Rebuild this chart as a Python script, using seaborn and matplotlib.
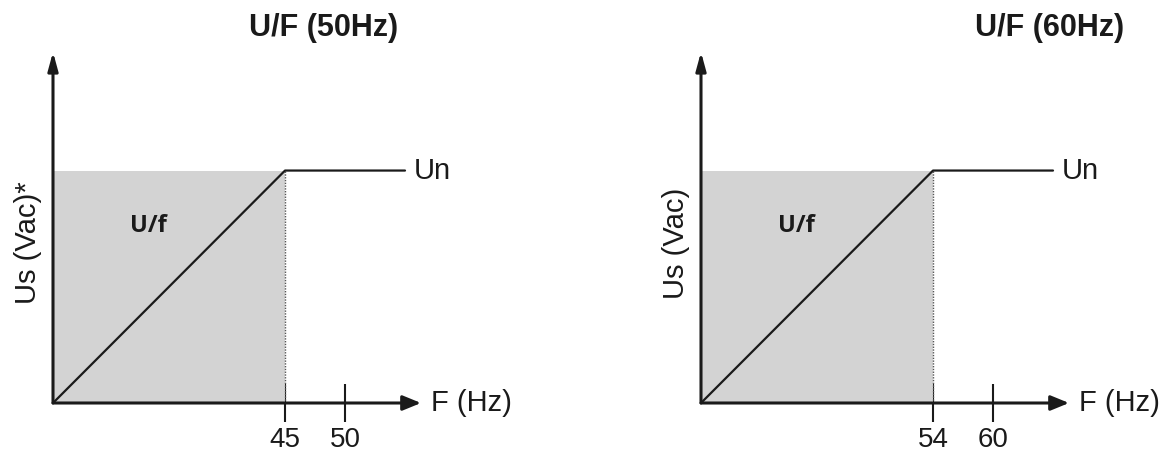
"""
U/F control curves for 50 Hz and 60 Hz motors.
"""

import numpy as np
import pandas as pd
import matplotlib.pyplot as plt
import seaborn as sns

# ── Data ───────────────────────────────────────────────────────────────
titles     = ['U/F (50Hz)', 'U/F (60Hz)']
ylabels    = ['Us (Vac)*', 'Us (Vac)']
knee_freq  = [45, 54]           # end of the U/f ramp
nom_freq   = [50, 60]           # nominal frequency
end_freq   = [55, 66]           # end of the flat Un segment
curve_volt = [0, 100, 100]      # % of Un at (0, knee, end)

# ── Style ──────────────────────────────────────────────────────────────
sns.set_theme(style='white')
plt.rcParams['font.family'] = ['Liberation Sans', 'DejaVu Sans']

fig = plt.figure(figsize=(11.67, 4.53), dpi=100)
W, H = 1167, 453


def make_scale(knee, nom):
    # schematic axis: ramp stretched, knee -> nominal compressed
    slope = 60.0 / (nom - knee)

    def fwd(f):
        f = np.asarray(f, dtype=float)
        return np.where(f <= knee, f * 232.0 / knee, 232.0 + (f - knee) * slope)

    def inv(p):
        p = np.asarray(p, dtype=float)
        return np.where(p <= 232.0, p * knee / 232.0, knee + (p - 232.0) / slope)

    return fwd, inv


for i, left_px in enumerate([53, 701]):
    ax = fig.add_axes([left_px / W, 50 / H, 368 / W, 351 / H])
    knee, nom = knee_freq[i], nom_freq[i]
    fwd, inv = make_scale(knee, nom)
    ax.set_xscale('function', functions=(fwd, inv))

    df = pd.DataFrame({'F': [0, knee, end_freq[i]], 'U': curve_volt})

    # shaded U/f region + dotted knee marker
    ax.fill_between([0, knee], 0, curve_volt[1], color='#d3d3d3', lw=0)
    ax.plot([knee, knee], [0, curve_volt[1]], color='#555555', lw=1,
            linestyle=(0, (1, 1)))
    sns.lineplot(data=df, x='F', y='U', ax=ax, color='k', lw=1.6,
                 estimator=None, sort=False)

    ax.set_xlim(0, float(inv(368)))
    ax.set_ylim(0, 151)
    for s in ax.spines.values():
        s.set_visible(False)

    # axes with arrow heads
    ax.annotate('', xy=(1, 0), xytext=(0, 0), xycoords='axes fraction',
                arrowprops=dict(arrowstyle='-|>,head_length=1.1,head_width=0.45',
                                lw=2.2, color='k', mutation_scale=10,
                                shrinkA=0, shrinkB=0))
    ax.annotate('', xy=(0, 1), xytext=(0, 0), xycoords='axes fraction',
                arrowprops=dict(arrowstyle='-|>,head_length=1.1,head_width=0.3',
                                lw=2.2, color='k', mutation_scale=10,
                                shrinkA=0, shrinkB=0))

    ax.set_xticks([knee, nom])
    ax.set_xticklabels([str(knee), str(nom)])
    ax.set_yticks([])
    ax.minorticks_off()
    ax.tick_params(axis='x', bottom=True, direction='inout', length=27,
                   width=1.5, color='k', labelsize=20, labelcolor='k', pad=4)
    ax.set_xlabel('')
    ax.set_ylabel(ylabels[i], fontsize=21, color='k')
    ax.yaxis.set_label_coords(-0.03, 0.456)

    ax.annotate('Un', xy=(end_freq[i], curve_volt[-1]), xytext=(6, 0),
                textcoords='offset points', va='center', ha='left',
                fontsize=21, color='k')
    ax.text(1.027, 0, 'F (Hz)', transform=ax.transAxes, va='center',
            ha='left', fontsize=21, color='k')
    ax.text(knee * 0.41, 76, 'U/f', ha='center', va='center', fontsize=17,
            fontweight='bold', family=['Open Sans', 'DejaVu Sans'], color='k')

    title_x = [0.736, 0.946][i]
    ax.text(title_x, 1.068, titles[i], transform=ax.transAxes, ha='center',
            va='center', fontsize=22, fontweight='bold', color='k')

fig.savefig('out.png', dpi=100)
